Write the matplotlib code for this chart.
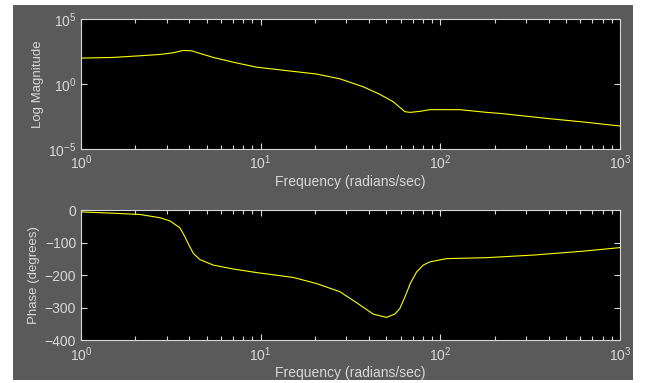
# Bode plot: log magnitude and phase vs frequency
import numpy as np
import matplotlib.pyplot as plt
from matplotlib.patches import Rectangle
from matplotlib.ticker import FixedLocator, FixedFormatter, LogLocator, NullFormatter

# magnitude curve
mag_freq = [1.0, 1.5, 2.13, 2.75, 3.26, 3.71, 4.13, 4.59, 5.45, 7.05, 9.5,
            20.5, 27.6, 37.2, 46.0, 54.6, 63.5, 67.9, 77.0, 87.4, 128.0, 181.0,
            215.0, 407.0, 624.0, 1000.0]
mag_log10 = [2.0, 2.05, 2.18, 2.28, 2.41, 2.59, 2.56, 2.36, 2.05, 1.68, 1.3,
             0.77, 0.40, -0.21, -0.79, -1.36, -2.13, -2.18, -2.1, -1.97, -1.97, -2.18,
             -2.26, -2.67, -2.92, -3.23]

# phase curve
phase_freq = [1.0, 1.5, 2.13, 2.75, 3.13, 3.55, 3.79, 3.95, 4.22, 4.59, 5.45,
              7.05, 9.5, 15.2, 20.5, 27.6, 34.2, 42.3, 50.1, 55.7, 59.4, 63.5,
              67.9, 73.7, 80.2, 87.4, 108.0, 181.0, 330.0, 624.0, 1000.0]
phase_deg = [-5, -9, -13, -23, -33, -54, -82, -103, -133, -152, -169,
             -181, -192, -207, -226, -251, -285, -320, -330, -320, -303, -267,
             -226, -190, -169, -159, -149, -146, -138, -126, -115]

xticks = [1, 10, 100, 1000]
xtick_labels = ['$10^{0}$', '$10^{1}$', '$10^{2}$', '$10^{3}$']
mag_yticks = [1e-5, 1e0, 1e5]
mag_ytick_labels = ['$10^{-5}$', '$10^{0}$', '$10^{5}$']
phase_yticks = [-400, -300, -200, -100, 0]

bg = '#5a5a5a'
fg = '#d8d8d8'

plt.rcParams['font.family'] = ['Liberation Sans', 'DejaVu Sans']
plt.rcParams['mathtext.default'] = 'regular'
plt.rcParams['font.size'] = 10

fig = plt.figure(figsize=(6.48, 3.83), dpi=100, facecolor='white')
fig.patches.append(Rectangle((13 / 648, 3 / 383), 620 / 648, 375 / 383,
                             transform=fig.transFigure, facecolor=bg,
                             edgecolor='none', zorder=-10))

ax1 = fig.add_axes([0.125, 0.611, 0.832, 0.339])
ax2 = fig.add_axes([0.125, 0.112, 0.832, 0.339])


def style(ax):
    ax.set_facecolor('black')
    ax.set_xscale('log')
    ax.set_xlim(1, 1000)
    for s in ax.spines.values():
        s.set_color(fg)
        s.set_linewidth(0.8)
    ax.xaxis.set_major_locator(FixedLocator(xticks))
    ax.xaxis.set_major_formatter(FixedFormatter(xtick_labels))
    ax.xaxis.set_minor_locator(LogLocator(base=10, subs=np.arange(2, 10)))
    ax.xaxis.set_minor_formatter(NullFormatter())
    ax.tick_params(which='both', direction='in', top=True, right=True,
                   colors=fg, labelcolor=fg, width=0.8)
    ax.tick_params(which='major', length=4, labelsize=10)
    ax.tick_params(which='minor', length=3)
    ax.set_xlabel('Frequency (radians/sec)', color=fg, fontsize=10, labelpad=2)


style(ax1)
ax1.plot(mag_freq, 10 ** np.array(mag_log10), color='#ffff00', linewidth=0.8)
ax1.set_yscale('log')
ax1.set_ylim(1e-5, 1e5)
ax1.yaxis.set_major_locator(FixedLocator(mag_yticks))
ax1.yaxis.set_major_formatter(FixedFormatter(mag_ytick_labels))
ax1.yaxis.set_minor_locator(FixedLocator([]))
ax1.set_ylabel('Log Magnitude', color=fg, fontsize=9.5, labelpad=3)

style(ax2)
ax2.plot(phase_freq, phase_deg, color='#ffff00', linewidth=0.8)
ax2.set_ylim(-400, 0)
ax2.set_yticks(phase_yticks)
ax2.set_ylabel('Phase (degrees)', color=fg, fontsize=9.5, labelpad=3)

fig.savefig('out.png', dpi=100, facecolor=fig.get_facecolor())
